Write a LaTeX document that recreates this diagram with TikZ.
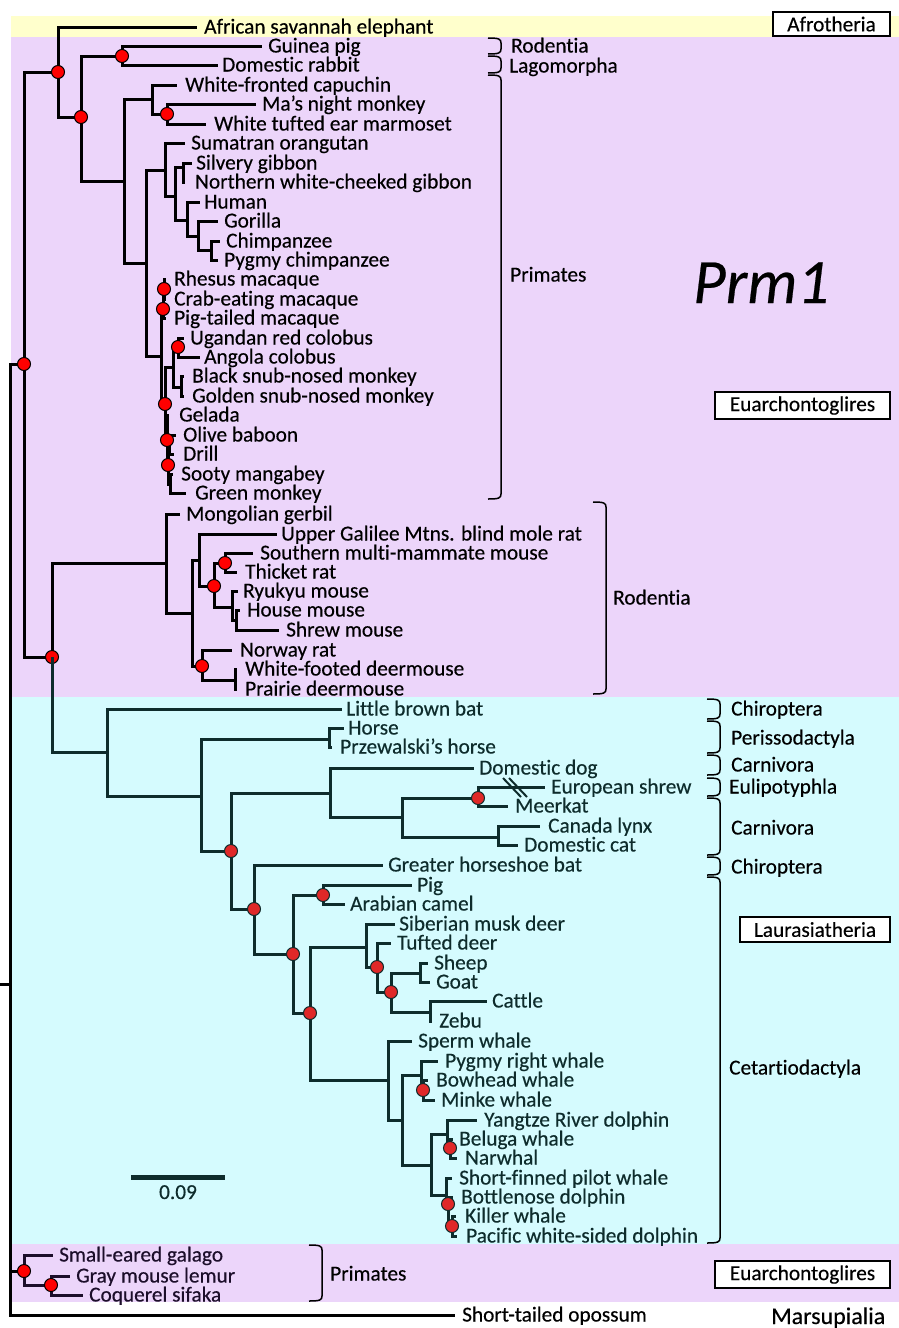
\documentclass[tikz,border=0pt]{standalone}
\usepackage{fontspec}
\setmainfont{Carlito}[Ligatures=NoCommon, FakeBold=0.35]
\definecolor{afrobg}{HTML}{FFFFCC}
\definecolor{euarbg}{HTML}{ECD5FA}
\definecolor{laurbg}{HTML}{D5FBFE}
\definecolor{tealdk}{HTML}{0E2C2C}
\definecolor{strepdk}{HTML}{1C0E2A}
\definecolor{dotred}{HTML}{E02828}
% a leaf: tip coordinate, and its label
\newcommand\tip[5]{\coordinate (#1) at (#2,#3);\node[lab] (#1-t) at (#4,#3+6.5) {#5};}
% an elbow branch from a parent node to a child
\newcommand\branch[2]{\draw[br] (#1) |- (#2);}
% a support dot on a node
\newcommand\ndot[1]{\filldraw[nd] (#1) circle[radius=6.5pt];}
% a clade bracket at x from y1 to y2
\newcommand\clade[3]{\draw[brk] (#1-13,#2) .. controls (#1-2,#2) and (#1,#2+1) .. (#1,#2+5) -- (#1,#3-5) .. controls (#1,#3-1) and (#1-2,#3) .. (#1-13,#3);}
\begin{document}
\begin{tikzpicture}[x=1pt,y=-1pt,
  br/.style={line width=3pt},
  lab/.style={anchor=base west, inner sep=0pt, font=\fontsize{21.3}{25}\selectfont},
  nd/.style={fill=red, draw=black, line width=1pt},
  brk/.style={line width=1.5pt, draw=black},
  box/.style={draw=black, fill=white, text=black, line width=1.2pt, inner sep=0pt, font=\fontsize{21.3}{25}\selectfont}]
\useasboundingbox (0,0) rectangle (899,1328);
% background bands
\fill[afrobg] (11,16) rectangle (899,37);
\fill[euarbg] (11,37) rectangle (899,697);
\fill[laurbg] (11,697) rectangle (899,1244);
\fill[euarbg] (11,1244) rectangle (899,1302);

% ---------- root ----------
\coordinate (root) at (10,984);
\coordinate (stub) at (0,984);
\coordinate (boreo) at (24,364);
\coordinate (strep) at (24,1271);
\tip{opossum}{455}{1315}{462}{Short-tailed opossum}
\draw[br] (stub) -- (root);
\branch{root}{boreo}\branch{root}{strep}\branch{root}{opossum}

% ---------- upper clade ----------
\coordinate (n58) at (58,72);
\coordinate (n52) at (52,657);
\coordinate (n81) at (81,117);
\coordinate (n122) at (122,56);
\coordinate (n124) at (124,181);
\coordinate (n152) at (152,99);
\coordinate (n167) at (167,114);
\coordinate (n146) at (146,263);
\coordinate (n165) at (165,170);
\coordinate (n175) at (175,196);
\coordinate (n183) at (183,167);
\coordinate (n187) at (187,220);
\coordinate (n198) at (198,236);
\coordinate (n211) at (211,250);
\coordinate (nOWM) at (161,356);
\coordinate (nM2) at (163,309);
\coordinate (nM1) at (164,289);
\coordinate (nP0) at (165,404);
\coordinate (nC) at (173,367);
\coordinate (nC1) at (178,347);
\coordinate (nC2) at (181,387);
\coordinate (nP1) at (167,440);
\coordinate (nP2) at (168,465);
\coordinate (nBD) at (169,445);
\coordinate (nSG) at (170,484);
\tip{eleph}{197}{27}{204}{African savannah elephant}
\tip{gpig}{262}{46}{268}{Guinea pig}
\tip{rabbit}{218}{65}{222}{Domestic rabbit}
\tip{capu}{177}{85}{185}{White-fronted capuchin}
\tip{night}{256}{104}{262}{Ma’s night monkey}
\tip{marm}{206}{124}{214}{White tufted ear marmoset}
\tip{orang}{185}{143}{191}{Sumatran orangutan}
\tip{silv}{192}{163}{196}{Silvery gibbon}
\tip{nwcg}{185}{182}{195}{Northern white-cheeked gibbon}
\tip{human}{200}{202}{204}{Human}
\tip{gor}{218}{221}{224}{Gorilla}
\tip{chimp}{220}{241}{226}{Chimpanzee}
\tip{bono}{218}{260}{224}{Pygmy chimpanzee}
\tip{rhesus}{166}{279}{174}{Rhesus macaque}
\tip{crab}{166}{299}{174}{Crab-eating macaque}
\tip{pigt}{166}{318}{174}{Pig-tailed macaque}
\tip{ugan}{184}{338}{190}{Ugandan red colobus}
\tip{angola}{200}{357}{204}{Angola colobus}
\tip{bsnub}{184}{376}{192}{Black snub-nosed monkey}
\tip{gsnub}{184}{396}{192}{Golden snub-nosed monkey}
\tip{gelada}{169}{415}{179}{Gelada}
\tip{olive}{176}{435}{183}{Olive baboon}
\tip{drill}{174}{454}{183}{Drill}
\tip{sooty}{173}{474}{181}{Sooty mangabey}
\tip{green}{186}{493}{195}{Green monkey}
\branch{boreo}{n58}\branch{boreo}{n52}
\branch{n58}{eleph}\branch{n58}{n81}
\branch{n81}{n122}\branch{n81}{n124}
\branch{n122}{gpig}\branch{n122}{rabbit}
\branch{n124}{n152}\branch{n124}{n146}
\branch{n152}{capu}\branch{n152}{n167}
\branch{n167}{night}\branch{n167}{marm}
\branch{n146}{n165}\branch{n146}{nOWM}
\branch{n165}{orang}\branch{n165}{n175}
\branch{n175}{n183}\branch{n175}{n187}
\branch{n183}{silv}\branch{n183}{nwcg}
\branch{n187}{human}\branch{n187}{n198}
\branch{n198}{gor}\branch{n198}{n211}
\branch{n211}{chimp}\branch{n211}{bono}
\branch{nOWM}{nM2}\branch{nOWM}{nP0}
\branch{nM2}{nM1}\branch{nM2}{pigt}
\branch{nM1}{rhesus}\branch{nM1}{crab}
\branch{nP0}{nC}\branch{nP0}{nP1}
\branch{nC}{nC1}\branch{nC}{nC2}
\branch{nC1}{ugan}\branch{nC1}{angola}
\branch{nC2}{bsnub}\branch{nC2}{gsnub}
\branch{nP1}{gelada}\branch{nP1}{nP2}
\branch{nP2}{nBD}\branch{nP2}{nSG}
\branch{nBD}{olive}\branch{nBD}{drill}
\branch{nSG}{sooty}\branch{nSG}{green}

% rodents
\coordinate (nRod) at (166,563);
\coordinate (n192) at (192,613);
\coordinate (n199) at (199,560);
\coordinate (n214) at (214,586);
\coordinate (n225) at (225,563);
\coordinate (n232) at (232,607);
\coordinate (n236) at (236,620);
\coordinate (n202) at (202,666);
\coordinate (n235) at (235,680);
\tip{gerbil}{180}{514}{186}{Mongolian gerbil}
\tip{molerat}{277}{534}{281}{Upper Galilee Mtns. blind mole rat}
\tip{mmouse}{253}{553}{260}{Southern multi-mammate mouse}
\tip{thicket}{237}{572}{245}{Thicket rat}
\tip{ryukyu}{238}{591}{243}{Ryukyu mouse}
\tip{house}{240}{610}{247}{House mouse}
\tip{shrewm}{279}{630}{286}{Shrew mouse}
\tip{norway}{232}{650}{240}{Norway rat}
\tip{wfdeer}{237}{669}{245}{White-footed deermouse}
\tip{prdeer}{237}{689}{245}{Prairie deermouse}
\branch{n52}{nRod}
\branch{nRod}{gerbil}\branch{nRod}{n192}
\branch{n192}{n199}\branch{n192}{n202}
\branch{n199}{molerat}\branch{n199}{n214}
\branch{n214}{n225}\branch{n214}{n232}
\branch{n225}{mmouse}\branch{n225}{thicket}
\branch{n232}{ryukyu}\branch{n232}{n236}
\branch{n236}{house}\branch{n236}{shrewm}
\branch{n202}{norway}\branch{n202}{n235}
\branch{n235}{wfdeer}\branch{n235}{prdeer}

\foreach \n in {n58,n81,n122,n167,boreo,n52,nM1,nM2,nC1,nP0,nP1,nP2,n214,n225,n202} {\ndot{\n}}

% ---------- Laurasiatheria ----------
\begin{scope}[color=tealdk, nd/.style={fill=dotred, draw=tealdk, line width=1pt}]
\coordinate (nLaur) at (107,752);
\coordinate (n201) at (201,796);
\coordinate (nHorse) at (329,739);
\coordinate (n231) at (231,851);
\coordinate (n330) at (330,793);
\coordinate (n402) at (402,817);
\coordinate (n478) at (478,798);
\coordinate (n498) at (498,837);
\coordinate (n254) at (254,909);
\coordinate (n293) at (293,954);
\coordinate (n323) at (323,895);
\coordinate (n310) at (310,1013);
\coordinate (n366) at (366,947);
\coordinate (n377) at (377,967);
\coordinate (n391) at (391,992);
\coordinate (n420) at (420,973);
\coordinate (n430) at (430,1012);
\coordinate (n388) at (388,1080);
\coordinate (nWh) at (402,1120);
\coordinate (nBal) at (421,1075);
\coordinate (nBM) at (423,1090);
\coordinate (nOd) at (431,1165);
\coordinate (n447) at (447,1134);
\coordinate (nBN) at (450,1148);
\coordinate (nDel) at (446,1195);
\coordinate (nD1) at (448,1204);
\coordinate (nD2) at (452,1226);
\tip{lbbat}{342}{709}{346}{Little brown bat}
\tip{horse}{344}{728}{348}{Horse}
\tip{przew}{332}{747}{340}{Przewalski’s horse}
\tip{dog}{474}{768}{479}{Domestic dog}
\tip{eshrew}{545}{787}{551}{European shrew}
\tip{meerkat}{508}{806}{515}{Meerkat}
\tip{lynx}{540}{826}{548}{Canada lynx}
\tip{cat}{518}{845}{524}{Domestic cat}
\tip{hsbat}{383}{865}{388}{Greater horseshoe bat}
\tip{pig}{412}{885}{417}{Pig}
\tip{camel}{345}{904}{350}{Arabian camel}
\tip{musk}{395}{924}{399}{Siberian musk deer}
\tip{tufted}{391}{943}{397}{Tufted deer}
\tip{sheep}{428}{963}{434}{Sheep}
\tip{goat}{430}{982}{436}{Goat}
\tip{cattle}{487}{1001}{492}{Cattle}
\tip{zebu}{432}{1021}{439}{Zebu}
\tip{sperm}{412}{1041}{418}{Sperm whale}
\tip{pygmyr}{438}{1061}{445}{Pygmy right whale}
\tip{bowhead}{428}{1080}{436}{Bowhead whale}
\tip{minke}{435}{1100}{441}{Minke whale}
\tip{yangtze}{477}{1120}{484}{Yangtze River dolphin}
\tip{beluga}{453}{1139}{459}{Beluga whale}
\tip{narwhal}{457}{1158}{465}{Narwhal}
\tip{pilot}{452}{1178}{459}{Short-finned pilot whale}
\tip{bottle}{453}{1197}{461}{Bottlenose dolphin}
\tip{killer}{456}{1216}{465}{Killer whale}
\tip{pacific}{457}{1236}{466}{Pacific white-sided dolphin}
\branch{n52}{nLaur}
\branch{nLaur}{lbbat}\branch{nLaur}{n201}
\branch{n201}{nHorse}\branch{n201}{n231}
\branch{nHorse}{horse}\branch{nHorse}{przew}
\branch{n231}{n330}\branch{n231}{n254}
\branch{n330}{dog}\branch{n330}{n402}
\branch{n402}{n478}\branch{n402}{n498}
\branch{n478}{eshrew}\branch{n478}{meerkat}
\branch{n498}{lynx}\branch{n498}{cat}
\branch{n254}{hsbat}\branch{n254}{n293}
\branch{n293}{n323}\branch{n293}{n310}
\branch{n323}{pig}\branch{n323}{camel}
\branch{n310}{n366}\branch{n310}{n388}
\branch{n366}{musk}\branch{n366}{n377}
\branch{n377}{tufted}\branch{n377}{n391}
\branch{n391}{n420}\branch{n391}{n430}
\branch{n420}{sheep}\branch{n420}{goat}
\branch{n430}{cattle}\branch{n430}{zebu}
\branch{n388}{sperm}\branch{n388}{nWh}
\branch{nWh}{nBal}\branch{nWh}{nOd}
\branch{nBal}{pygmyr}\branch{nBal}{nBM}
\branch{nBM}{bowhead}\branch{nBM}{minke}
\branch{nOd}{n447}\branch{nOd}{nDel}
\branch{n447}{yangtze}\branch{n447}{nBN}
\branch{nBN}{beluga}\branch{nBN}{narwhal}
\branch{nDel}{pilot}\branch{nDel}{nD1}
\branch{nD1}{bottle}\branch{nD1}{nD2}
\branch{nD2}{killer}\branch{nD2}{pacific}
% break marks on the shrew branch
\draw[line width=2pt] (503,778) -- (521,797);
\draw[line width=2pt] (509,778) -- (527,797);
\foreach \n in {n231,n254,n293,n323,n310,n377,n391,n478,nBM,nBN,nD1,nD2} {\ndot{\n}}
% scale bar
\coordinate (sbl) at (131,1177);
\coordinate (sbr) at (225,1177);
\draw[line width=5pt] (sbl) -- (sbr);
\node[lab, anchor=base] (sbt) at (178,1199) {0.09};
\end{scope}

% ---------- Strepsirrhini ----------
\begin{scope}[color=strepdk]
\coordinate (n51) at (51,1285);
\tip{galago}{53}{1255}{59}{Small-eared galago}
\tip{mlemur}{70}{1276}{76}{Gray mouse lemur}
\tip{sifaka}{83}{1295}{89}{Coquerel sifaka}
\branch{strep}{galago}\branch{strep}{n51}
\branch{n51}{mlemur}\branch{n51}{sifaka}
\end{scope}
\ndot{strep}\ndot{n51}

% ---------- clade brackets ----------
\clade{501}{38}{54}
\clade{501}{56}{73}
\clade{501}{75}{499}
\clade{606}{502}{694}
\clade{720}{699}{719}
\clade{720}{721}{753}
\clade{720}{755}{775}
\clade{720}{778}{796}
\clade{720}{798}{855}
\clade{720}{857}{875}
\clade{720}{877}{1243}
\clade{322}{1245}{1301}
\node[lab] (c1) at (511,52.5) {Rodentia};
\node[lab] (c2) at (509,72.5) {Lagomorpha};
\node[lab] (c3) at (510,281.5) {Primates};
\node[lab] (c4) at (613,604.5) {Rodentia};
\node[lab] (c5) at (731,715.5) {Chiroptera};
\node[lab] (c6) at (731,744.5) {Perissodactyla};
\node[lab] (c7) at (731,771.5) {Carnivora};
\node[lab] (c8) at (729,793.5) {Eulipotyphla};
\node[lab] (c9) at (731,834.5) {Carnivora};
\node[lab] (c10) at (731,873.5) {Chiroptera};
\node[lab] (c11) at (729,1074.5) {Cetartiodactyla};
\node[lab] (c12) at (330,1280.5) {Primates};
\node[lab, font=\fontsize{24}{28}\selectfont] (c13) at (771,1324) {Marsupialia};

% ---------- superorder boxes ----------
\node[box, minimum width=117pt, minimum height=24pt] (bAfro) at (831.5,24) {Afrotheria};
\node[box, minimum width=175pt, minimum height=27pt] (bEuar1) at (802.5,405.5) {Euarchontoglires};
\node[box, minimum width=150pt, minimum height=25pt] (bLaur) at (815,929.5) {Laurasiatheria};
\node[box, minimum width=175pt, minimum height=27pt] (bEuar2) at (802.5,1274.5) {Euarchontoglires};

% ---------- gene name ----------
\node[anchor=base west, inner sep=0pt, font=\fontsize{63}{63}\selectfont\itshape] (gene) at (693,303) {Prm1};
\end{tikzpicture}
\end{document}
